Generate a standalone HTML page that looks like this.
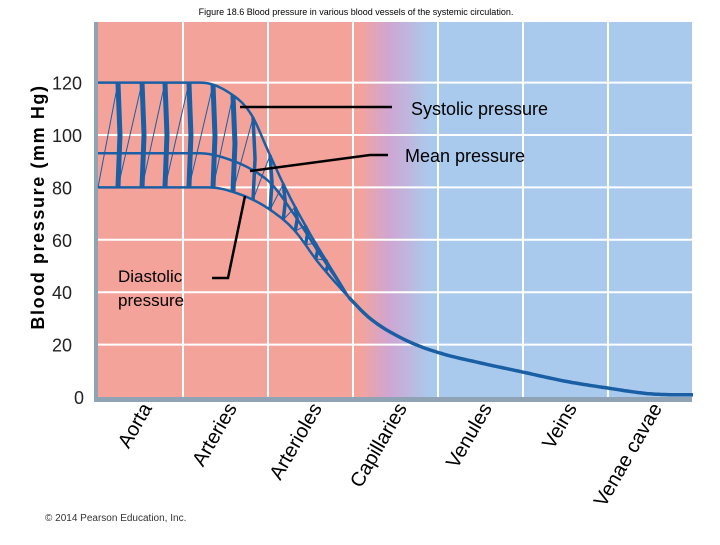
<!DOCTYPE html>
<html><head><meta charset="utf-8"><style>
body{margin:0;background:#fff;width:720px;height:540px;overflow:hidden;font-family:"Liberation Sans",sans-serif}
</style></head><body>
<svg id="c" width="720" height="540" xmlns="http://www.w3.org/2000/svg">
<defs><linearGradient id="bg" x1="98" x2="692" y1="0" y2="0" gradientUnits="userSpaceOnUse">
<stop offset="0" stop-color="#f4a39a"/><stop offset="0.44" stop-color="#f4a39a"/>
<stop offset="0.49" stop-color="#cfa6d2"/><stop offset="0.56" stop-color="#a9caed"/><stop offset="1" stop-color="#a9caed"/></linearGradient></defs>
<text x="356" y="15" font-size="9" text-anchor="middle">Figure 18.6  Blood pressure in various blood vessels of the systemic circulation.</text>
<rect x="98" y="22" width="594" height="375" fill="url(#bg)"/>
<rect x="94" y="22" width="4" height="380" fill="#8fa3b5"/>
<rect x="94" y="397" width="598" height="5" fill="#8fa3b5"/>
<g id="grid"></g><g id="curves"></g><g id="ticks"></g><g id="cats"></g>
<text transform="translate(44,207) rotate(-90)" font-size="18" font-weight="bold" text-anchor="middle" letter-spacing="1.6">Blood pressure (mm Hg)</text>
<g stroke="#000" stroke-width="2.5" fill="none">
<line x1="240" y1="107" x2="392" y2="107"/>
<polyline points="250,171 370,155 388,155"/>
<polyline points="245,196 228,278 212,278"/>
</g>
<text x="411" y="115" font-size="18">Systolic pressure</text>
<text x="405" y="162" font-size="18">Mean pressure</text>
<text x="118" y="282" font-size="17">Diastolic</text>
<text x="118" y="306" font-size="17">pressure</text>
<text x="45" y="521" font-size="10" fill="#333">© 2014 Pearson Education, Inc.</text>
</svg>
<script>
const categories=["Aorta","Arteries","Arterioles","Capillaries","Venules","Veins","Venae cavae"];
const yTicks=[0,20,40,60,80,100,120];
const sysPos=[0,1.2,1.5,1.8,2.0,2.2,2.5,2.8,2.95];
const sysVal=[120,120,117,108,94,80,62,46,38];
const meanPos=[0,1.2,1.6,1.9,2.05,2.3,2.6,2.95];
const meanVal=[93,93,90,85,81,70,55,38];
const diaPos=[0,1.3,1.7,2.0,2.3,2.6,2.95];
const diaVal=[80,80,77,72,64,51,38];
const tailPos=[2.95,3.2,3.6,4,4.5,5,5.5,6,6.5,7];
const tailVal=[38,30,22,17,13,9.5,6,3.4,1.2,0.8];
const beatPos=[0.235,0.518,0.788,1.07,1.353,1.588,1.824,2.024,2.18,2.32,2.44,2.56,2.68];
const NS="http://www.w3.org/2000/svg";
const X=p=>98+p*85, Y=v=>397-2.62*v;
function mk(t,a,parent){const e=document.createElementNS(NS,t);for(const k in a)e.setAttribute(k,a[k]);parent.appendChild(e);return e;}
function interp(P,V,p){const n=P.length;if(p<=P[0])return V[0];if(p>=P[n-1])return V[n-1];
const d=[],m=[];for(let i=0;i<n-1;i++)d.push((V[i+1]-V[i])/(P[i+1]-P[i]));
m[0]=d[0];m[n-1]=d[n-2];for(let i=1;i<n-1;i++)m[i]=(d[i-1]*d[i]<=0)?0:(d[i-1]+d[i])/2;
let i=0;while(p>P[i+1])i++;const h=P[i+1]-P[i],t=(p-P[i])/h;
const h00=2*t*t*t-3*t*t+1,h10=t*t*t-2*t*t+t,h01=-2*t*t*t+3*t*t,h11=t*t*t-t*t;
return h00*V[i]+h10*h*m[i]+h01*V[i+1]+h11*h*m[i+1];}
function pathOf(P,V){let d="";const a=P[0],b=P[P.length-1];for(let i=0;i<=120;i++){const p=a+(b-a)*i/120;d+=(i?"L":"M")+X(p).toFixed(1)+","+Y(interp(P,V,p)).toFixed(1);}return d;}
const g=document.getElementById("grid"),cv=document.getElementById("curves"),tk=document.getElementById("ticks"),ct=document.getElementById("cats");
for(let i=1;i<categories.length;i++){const l=mk("line",{x1:X(i),x2:X(i),y1:22,y2:397,stroke:"#fff","stroke-width":2},g);

}
yTicks.forEach(v=>{if(v>0){const l=mk("line",{x1:98,x2:692,y1:Y(v),y2:Y(v),stroke:"#fff","stroke-width":2},g);

}
const t=mk("text",{x:v?52:74,y:Y(v)+7,"font-size":18,fill:"#222"},tk);t.textContent=v;

});
categories.forEach((c,i)=>{const t=mk("text",{transform:`translate(${X(i+0.5)+12},${408}) rotate(-60)`,"font-size":20,"text-anchor":"end"},ct);t.textContent=c;

});
let prev=0;
beatPos.forEach(p=>{const s=interp(sysPos,sysVal,p),d=interp(diaPos,diaVal,p);
const w=p<1.7?5:3.5;
const l=mk("path",{d:`M${X(p)},${Y(d)} L${X(p)+2},${Y((s+d)/2)} L${X(p)},${Y(s)}`,stroke:"#1a5ea3","stroke-width":w,fill:"none"},cv);


const r=mk("line",{x1:X(prev),y1:Y(interp(diaPos,diaVal,prev)),x2:X(p),y2:Y(s),stroke:"#1a5ea3","stroke-width":1},cv);


prev=p;});
[[sysPos,sysVal,'systolic-line'],[meanPos,meanVal,'mean-line'],[diaPos,diaVal,'diastolic-line'],[tailPos,tailVal,'venous-pressure-line']].forEach(([P,V,n])=>{
const e=mk("path",{d:pathOf(P,V),stroke:"#1a5ea3","stroke-width":n=='venous-pressure-line'?3.5:2.5,fill:"none","stroke-linejoin":"round"},cv);

});
</script>
</body></html>
